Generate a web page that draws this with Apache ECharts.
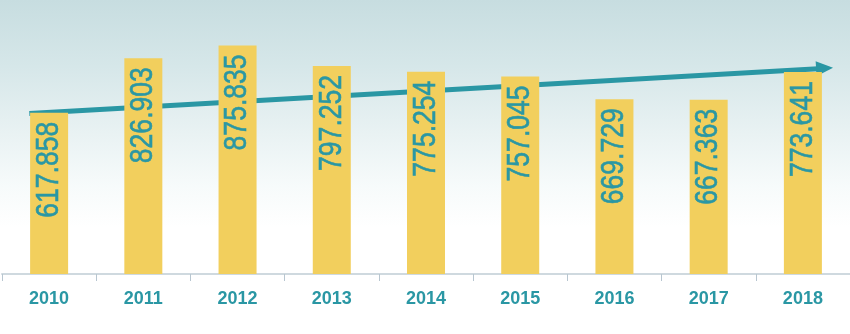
<!DOCTYPE html>
<html>
<head>
<meta charset="utf-8">
<script src="https://cdn.jsdelivr.net/npm/echarts@6/dist/echarts.min.js"></script>
<style>
html,body{margin:0;padding:0;}
body{background:linear-gradient(180deg,#c7dde0 0%,#d6e7e9 20%,#e9f2f3 40%,#f7fbfb 56%,#ffffff 68%,#ffffff 100%);}
#c{width:850px;height:334px;}
</style>
</head>
<body>
<div id="c"></div>
<script>
const years = ['2010','2011','2012','2013','2014','2015','2016','2017','2018'];
const values = [617.858, 826.903, 875.835, 797.252, 775.254, 757.045, 669.729, 667.363, 773.641];
const trendStart = [0.29, 615];
const trendEnd = [8.82, 790];

const teal = '#2a97a4';
const chart = echarts.init(document.getElementById('c'), null, {renderer: 'canvas'});
chart.setOption({
  backgroundColor: 'transparent',
  animation: false,
  grid: {left: 2, right: 0, top: 13, bottom: 60},
  xAxis: [{
    type: 'category',
    data: years,
    boundaryGap: true,
    axisLine: {lineStyle: {color: '#cfd9df', width: 2}},
    axisTick: {show: true, length: 7, lineStyle: {color: '#b8c6d0', width: 1}},
    axisLabel: {color: teal, fontSize: 18, fontWeight: 'bold', fontFamily: '"Liberation Sans", Arial, sans-serif', margin: 16}
  }, {
    type: 'value', min: 0, max: 9, show: false
  }],
  yAxis: {type: 'value', min: 0, max: 1000, show: false},
  series: [{
    type: 'custom',
    xAxisIndex: 1,
    zlevel: 0,
    z: 1,
    silent: true,
    data: [[trendStart[0], trendStart[1], trendEnd[0], trendEnd[1]]],
    encode: {x: [0, 2], y: [1, 3]},
    renderItem: function (params, api) {
      const a = api.coord([api.value(0), api.value(1)]);
      const b = api.coord([api.value(2), api.value(3)]);
      const dx = b[0] - a[0], dy = b[1] - a[1];
      const len = Math.sqrt(dx * dx + dy * dy);
      const ux = dx / len, uy = dy / len;
      const px = -uy, py = ux;
      const headLen = 17, headHalf = 7.5;
      const base = [b[0] - ux * headLen, b[1] - uy * headLen];
      return {
        type: 'group',
        children: [{
          type: 'line',
          shape: {x1: a[0], y1: a[1], x2: base[0] + ux * 2, y2: base[1] + uy * 2},
          style: {stroke: teal, lineWidth: 5}
        }, {
          type: 'polygon',
          shape: {points: [
            b,
            [base[0] + px * headHalf, base[1] + py * headHalf],
            [base[0] - px * headHalf, base[1] - py * headHalf]
          ]},
          style: {fill: teal}
        }]
      };
    }
  }, {
    type: 'bar',
    data: values,
    barWidth: 38,
    zlevel: 1,
    z: 3,
    itemStyle: {color: '#f2cf5d'}
  }, {
    type: 'custom',
    zlevel: 1,
    z: 4,
    silent: true,
    data: values.map((v, i) => [i, v]),
    encode: {x: 0, y: 1},
    renderItem: function (params, api) {
      const pt = api.coord([api.value(0), api.value(1)]);
      return {
        type: 'text',
        x: pt[0],
        y: pt[1] + 9,
        rotation: Math.PI / 2,
        scaleX: 0.83,
        style: {
          text: api.value(1).toFixed(3),
          fill: teal,
          stroke: teal,
          lineWidth: 0.6,
          font: '32px "Liberation Sans", Arial, sans-serif',
          align: 'right',
          verticalAlign: 'middle'
        }
      };
    }
  }]
});
</script>
</body>
</html>
